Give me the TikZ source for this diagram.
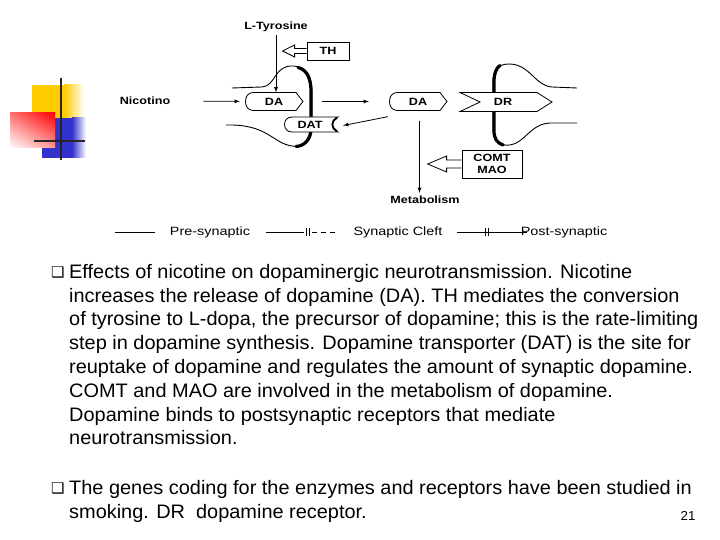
\documentclass[tikz,border=0pt]{standalone}
\usepackage{fontspec}
\setmainfont{Liberation Sans}
\newfontfamily\diagfont[FakeStretch=1.2]{Liberation Sans}
\newfontfamily\bodyfont[FakeStretch=1.022]{Liberation Sans}
\newfontfamily\symfont{DejaVu Sans}
\usepackage{tikz}
\usetikzlibrary{arrows.meta,calc,positioning,shadings}
\definecolor{logoyellow}{rgb}{1,0.8,0}
\definecolor{logoblue}{rgb}{0.2,0.2,0.8}

\begin{document}
\begin{tikzpicture}[x=1pt,y=-1pt,
    lbl/.style={font=\diagfont\bfseries\fontsize{10.5}{12}\selectfont, inner sep=0pt},
    leg/.style={font=\diagfont\fontsize{12}{14}\selectfont, inner sep=0pt},
    body/.style={font=\bodyfont\fontsize{19.5}{23.8}\selectfont, inner sep=0pt, align=left, anchor=north west},
    bul/.style={font=\symfont\fontsize{15}{15}\selectfont, inner sep=0pt, anchor=north west},
    mem/.style={line width=0.9pt},
    thickmem/.style={line width=3.2pt, line cap=round},
    arr/.style={-latex, thick}]
    \useasboundingbox (0,0) rectangle (720,540);
    % Logo
    \fill[logoyellow] (32,85) rectangle (64,118);
    \shade[left color=logoyellow, right color=white] (64,85) rectangle (84,118);
    \fill[logoblue] (42,118) rectangle (72,158);
    \shade[left color=logoblue, right color=white] (72,118) rectangle (86,158);
    \shade[upper left=red!55, upper right=red, lower left=white, lower right=red!40] (10,113) rectangle (55,148);
    \draw[line width=2.5pt, black!85] (61,78) -- (61,160);
    \draw[line width=2.5pt, black!85] (34,141) -- (85,141);
    % Presynaptic terminal
    \draw[mem] (232,88) -- (262,87) .. controls (276,86) and (274,65) .. (293,66)
        .. controls (308,67) and (312,78) .. (312,92) -- (312,128)
        .. controls (312,142) and (303,148) .. (292,146)
        .. controls (272,143) and (268,124) .. (226,125);
    \draw[thickmem] (298,67.5) .. controls (308,70) and (311,80) .. (311,92) -- (311,128)
        .. controls (311,140) and (304,146) .. (296,146.5);
    % Postsynaptic membrane
    \draw[mem] (577,88) -- (552,87) .. controls (535,86) and (530,64) .. (509,64)
        .. controls (496,64) and (493,72) .. (493,82) -- (493,130)
        .. controls (493,142) and (500,146) .. (510,145)
        .. controls (525,143) and (530,124) .. (550,123) -- (577,123);
    \draw[thickmem] (500,65.5) .. controls (496,68) and (494,74) .. (494,82) -- (494,130)
        .. controls (494,139) and (497,143) .. (503,145);
    % Labels and outlines
    \node[lbl] (tyr) at (276,27) {L-Tyrosine};
    \node[lbl] (nic) at (145,101) {Nicotino};
    \node[lbl, draw, thick, minimum width=42pt, minimum height=18pt] (th) at (328,51) {TH};
    \node[lbl, minimum width=58pt, minimum height=18pt] (da1) at (274,101.5) {};
    \node[lbl, minimum width=54pt, minimum height=15pt] (dat) at (311,124.5) {};
    \node[lbl, minimum width=58pt, minimum height=18pt] (da2) at (418,101.5) {};
    \node[lbl, minimum width=92pt, minimum height=19pt] (dr) at (506,102) {};
    \draw[thick, fill=white, shift={(da1)}] (-21,-9) -- (22,-9) -- (29,0) -- (22,9) -- (-21,9)
        .. controls (-31,9) and (-31,-9) .. (-21,-9) -- cycle;
    \draw[thick, fill=white, shift={(da2)}] (-21,-9) -- (22,-9) -- (29,0) -- (22,9) -- (-21,9)
        .. controls (-31,9) and (-31,-9) .. (-21,-9) -- cycle;
    \draw[thick, fill=white, shift={(dat)}] (-19,-7.5) -- (27,-7.5) .. controls (19,-5) and (19,5) .. (27,7.5)
        -- (-19,7.5) .. controls (-29,7.5) and (-29,-7.5) .. (-19,-7.5) -- cycle;
    \draw[line width=1.6pt, shift={(dat)}] (26,-6.5) .. controls (20,-4) and (20,4) .. (26,6.5);
    \draw[thick, fill=white, shift={(dr)}] (-46,-9.5) -- (31,-9.5) -- (46,0) -- (31,9.5) -- (-46,9.5) -- (-26,0) -- cycle;
    \node[lbl] at (da1) {DA};
    \node[lbl] at ($(dat)+(-1,0)$) {DAT};
    \node[lbl] at (da2) {DA};
    \node[lbl] at ($(dr)+(-3,0)$) {DR};
    \node[lbl, draw, thick, minimum width=60pt, minimum height=28pt, align=center] (comt) at (492,164) {COMT\\MAO};
    \node[lbl] (met) at (425,200) {Metabolism};
    % Block arrows
    \draw[thick, shift={(th.west)}] (0,-2.5) -- (-12,-2.5) -- (-12,-6) -- (-24,0) -- (-12,6) -- (-12,2.5) -- (0,2.5);
    \draw[thick, shift={(comt.west)}] (0,-4) -- (-15,-4) -- (-15,-8) -- (-34,0) -- (-15,8) -- (-15,4) -- (0,4);
    % Connectors
    \coordinate (mtop) at ($(da2.south)+(1.5,0)$);
    \draw[arr] (tyr.south) ++(0,3) -- (tyr.south |- da1.north);
    \draw[arr, shorten <=33pt, shorten >=5pt] (nic) -- (da1);
    \draw[arr, shorten <=19pt, shorten >=20pt] (da1) -- (da2);
    \draw[arr] ($(da2.south west)+(-1,6)$) -- ($(dat.east)+(5,1)$);
    \draw[arr, shorten <=10pt, shorten >=3pt] (mtop) -- (mtop |- met.north);
    % Legend
    \node[leg] (pre) at (210,232) {Pre-synaptic};
    \node[leg] (cleft) at (398,232) {Synaptic Cleft};
    \node[leg] (post) at (564,232) {Post-synaptic};
    \draw ($(pre.west)+(-55,0)$) -- ++(40,0);
    \draw ($(pre.east)+(16,0)$) -- ++(38,0);
    \draw ($(pre.east)+(56,-4)$) -- ++(0,8) ($(pre.east)+(58.5,-4)$) -- ++(0,8);
    \draw[dash pattern=on 5pt off 4pt] ($(pre.east)+(62,0)$) -- ($(cleft.west)+(-15,0)$);
    \draw ($(cleft.east)+(14,0)$) -- ($(post.west)+(6,0)$);
    \draw ($(cleft.east)+(43,-4)$) -- ++(0,8) ($(cleft.east)+(45.5,-4)$) -- ++(0,8);
    % Text
    \node[bul] (b1) at (51,266) {❑};
    \node[body] (t1) at (69,264) {Effects of nicotine on dopaminergic neurotransmission. Nicotine\\
        increases the release of dopamine (DA). TH mediates the conversion\\
        of tyrosine to L-dopa, the precursor of dopamine; this is the rate-limiting\\
        step in dopamine synthesis. Dopamine transporter (DAT) is the site for\\
        reuptake of dopamine and regulates the amount of synaptic dopamine.\\
        COMT and MAO are involved in the metabolism of dopamine.\\
        Dopamine binds to postsynaptic receptors that mediate\\
        neurotransmission.};
    \node[bul] (b2) at (51,482) {❑};
    \node[body] (t2) at (69,480) {The genes coding for the enzymes and receptors have been studied in\\
        smoking. DR\ \ dopamine receptor.};
    \node[font=\bodyfont\fontsize{13}{14}\selectfont, inner sep=0pt] (pg) at (688,516) {21};
\end{tikzpicture}
\end{document}
